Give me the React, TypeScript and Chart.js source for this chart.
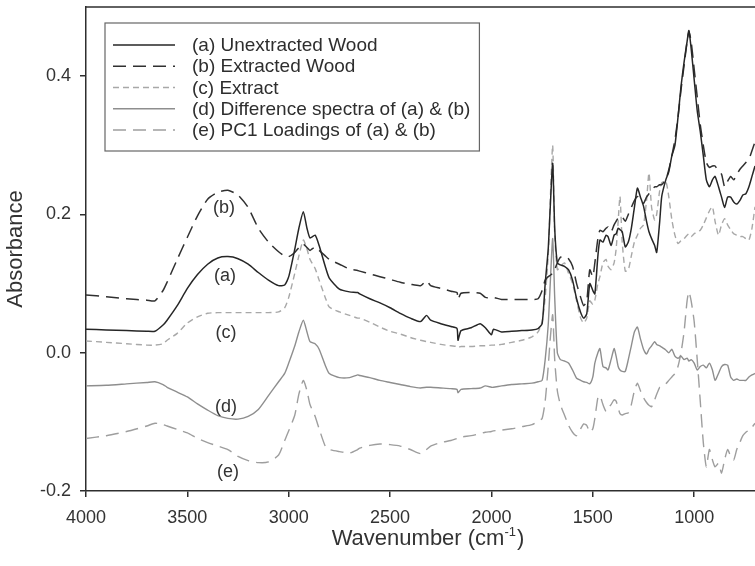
import React, { useEffect, useRef } from "react";
import { Chart, registerables } from "chart.js";

Chart.register(...registerables);

// Wavenumber grid (cm-1), descending
const wavenumbers = [
  4000, 3900, 3800, 3700, 3660, 3620, 3600, 3550, 3500, 3450,
  3400, 3350, 3300, 3250, 3200, 3150, 3100, 3050, 3020, 3000,
  2970, 2950, 2928, 2910, 2895, 2870, 2850, 2820, 2800, 2750,
  2700, 2660, 2650, 2600, 2550, 2500, 2450, 2400, 2350, 2320,
  2300, 2250, 2200, 2170, 2165, 2150, 2100, 2056, 2030, 2000,
  1990, 1950, 1900, 1850, 1800, 1770, 1750, 1735, 1720, 1710,
  1698, 1688, 1675, 1660, 1640, 1620, 1600, 1580, 1560, 1545,
  1530, 1515, 1500, 1490, 1475, 1465, 1450, 1435, 1425, 1410,
  1395, 1385, 1375, 1366, 1355, 1340, 1325, 1310, 1295, 1280,
  1265, 1250, 1235, 1223, 1210, 1195, 1185, 1170, 1160, 1140,
  1125, 1110, 1095, 1080, 1065, 1050, 1035, 1026, 1015, 1000,
  985, 970, 955, 940, 925, 910, 897, 880, 865, 850,
  835, 820, 805, 790, 775, 760, 745, 730, 715, 700,
];

// (a) Unextracted Wood
const unextracted = [
  0.034, 0.033, 0.032, 0.031, 0.031, 0.04, 0.047, 0.068, 0.093, 0.113,
  0.128, 0.137, 0.139, 0.136, 0.128, 0.116, 0.105, 0.097, 0.098, 0.11,
  0.15, 0.18, 0.204, 0.18, 0.166, 0.17, 0.155, 0.125, 0.108, 0.092,
  0.088, 0.087, 0.085, 0.078, 0.072, 0.065, 0.057, 0.05, 0.045, 0.054,
  0.047, 0.042, 0.038, 0.035, 0.018, 0.032, 0.036, 0.042, 0.036, 0.026,
  0.034, 0.03, 0.031, 0.032, 0.033, 0.035, 0.042, 0.1, 0.15, 0.21,
  0.274, 0.18, 0.13, 0.127, 0.125, 0.12, 0.105, 0.078, 0.058, 0.05,
  0.056, 0.1, 0.09, 0.085, 0.14, 0.163, 0.16, 0.17, 0.168, 0.155,
  0.17, 0.172, 0.18, 0.178, 0.175, 0.153, 0.16, 0.18, 0.21, 0.238,
  0.225, 0.212, 0.19, 0.175, 0.165, 0.155, 0.145, 0.19, 0.226, 0.25,
  0.262, 0.285, 0.3, 0.34, 0.385, 0.42, 0.45, 0.466, 0.44, 0.395,
  0.35, 0.32, 0.285, 0.25, 0.24, 0.25, 0.255, 0.24, 0.225, 0.21,
  0.225, 0.225, 0.218, 0.215, 0.22, 0.228, 0.23, 0.24, 0.255, 0.27,
];

// (b) Extracted Wood
const extracted = [
  0.0835, 0.081, 0.078, 0.076, 0.075, 0.09, 0.102, 0.135, 0.167, 0.198,
  0.222, 0.232, 0.235, 0.228, 0.21, 0.18, 0.16, 0.146, 0.14, 0.139,
  0.145, 0.152, 0.157, 0.152, 0.148, 0.153, 0.148, 0.14, 0.135, 0.128,
  0.121, 0.119, 0.118, 0.114, 0.11, 0.106, 0.102, 0.099, 0.097, 0.104,
  0.097, 0.093, 0.089, 0.087, 0.077, 0.086, 0.087, 0.086, 0.08, 0.079,
  0.08, 0.077, 0.077, 0.077, 0.077, 0.078, 0.09, 0.105, 0.11, 0.112,
  0.115, 0.12, 0.13, 0.138, 0.14, 0.136, 0.125, 0.1, 0.08, 0.068,
  0.075, 0.12, 0.11, 0.13, 0.165, 0.177, 0.175, 0.18, 0.182, 0.175,
  0.185, 0.19, 0.195, 0.197, 0.197, 0.19, 0.2, 0.21, 0.22, 0.226,
  0.22, 0.216, 0.225, 0.23, 0.235, 0.24, 0.24, 0.243, 0.243, 0.25,
  0.265, 0.285, 0.308, 0.34, 0.38, 0.415, 0.45, 0.465, 0.45, 0.41,
  0.37, 0.33, 0.3, 0.275, 0.268, 0.27, 0.27, 0.262, 0.258, 0.24,
  0.248, 0.255, 0.25, 0.258, 0.265, 0.27, 0.275, 0.28, 0.292, 0.305,
];

// (c) Extract
const extract = [
  0.017, 0.015, 0.013, 0.011, 0.011, 0.013, 0.018, 0.028, 0.043, 0.052,
  0.057, 0.058, 0.058, 0.058, 0.058, 0.058, 0.058, 0.059, 0.065, 0.08,
  0.115, 0.14, 0.163, 0.15, 0.135, 0.122, 0.105, 0.08, 0.066, 0.059,
  0.054, 0.05, 0.05, 0.044, 0.037, 0.031, 0.027, 0.022, 0.018, 0.016,
  0.015, 0.012, 0.01, 0.009, 0.008, 0.009, 0.009, 0.01, 0.01, 0.011,
  0.011, 0.012, 0.015, 0.018, 0.023, 0.03, 0.045, 0.08, 0.14, 0.22,
  0.3, 0.17, 0.12, 0.125, 0.13, 0.115, 0.1, 0.075, 0.05, 0.043,
  0.05, 0.075, 0.07, 0.076, 0.1, 0.11, 0.13, 0.135, 0.125, 0.12,
  0.13, 0.15, 0.19, 0.226, 0.16, 0.118, 0.12, 0.14, 0.16, 0.17,
  0.18, 0.185, 0.22, 0.26, 0.21, 0.192, 0.2, 0.235, 0.246, 0.248,
  0.225, 0.192, 0.17, 0.158, 0.162, 0.165, 0.17, 0.172, 0.168, 0.172,
  0.175, 0.177, 0.185, 0.195, 0.205, 0.211, 0.19, 0.17, 0.185, 0.194,
  0.185, 0.178, 0.172, 0.17, 0.168, 0.168, 0.165, 0.163, 0.18, 0.211,
];

// (d) Difference spectra of (a) & (b)
const difference = [
  -0.048, -0.047, -0.045, -0.043, -0.042, -0.046, -0.05, -0.057, -0.064, -0.074,
  -0.083, -0.091, -0.095, -0.096, -0.092, -0.082, -0.062, -0.042, -0.03, -0.015,
  0.01, 0.03, 0.047, 0.03, 0.016, 0.013, 0.005, -0.018, -0.03, -0.036,
  -0.036, -0.032, -0.033, -0.036, -0.04, -0.043, -0.046, -0.049, -0.051, -0.05,
  -0.05, -0.051, -0.052, -0.053, -0.058, -0.053, -0.052, -0.051, -0.048, -0.05,
  -0.05, -0.048, -0.046, -0.045, -0.044, -0.042, -0.04, -0.01, 0.04, 0.1,
  0.165, 0.08, 0.0, -0.01, -0.012, -0.015, -0.025, -0.037, -0.04, -0.042,
  -0.043, -0.045, -0.035, -0.015, 0.0, 0.006, -0.02, -0.022, -0.025, -0.01,
  0.006, -0.005, -0.02, -0.025, -0.027, -0.027, -0.01, 0.01, 0.03, 0.037,
  0.02, 0.005, -0.002, 0.005, 0.01, 0.016, 0.012, 0.01, 0.008, 0.004,
  0.0, 0.005, -0.005, -0.008, -0.005, -0.01, -0.008, -0.012, -0.01, -0.015,
  -0.025, -0.02, -0.018, -0.022, -0.015, -0.025, -0.04, -0.03, -0.02, -0.017,
  -0.018, -0.035, -0.04, -0.038, -0.04, -0.04, -0.04, -0.035, -0.032, -0.03,
];

// (e) PC1 Loadings of (a) & (b)
const pc1Loadings = [
  -0.124, -0.12, -0.114, -0.106, -0.102, -0.104, -0.106, -0.111, -0.116, -0.124,
  -0.13, -0.135, -0.14, -0.15, -0.156, -0.159, -0.158, -0.148, -0.127, -0.113,
  -0.09, -0.06, -0.04, -0.055, -0.075, -0.092, -0.11, -0.135, -0.14, -0.143,
  -0.145, -0.14, -0.138, -0.134, -0.132, -0.133, -0.135, -0.14, -0.146, -0.14,
  -0.135, -0.13, -0.127, -0.124, -0.124, -0.122, -0.12, -0.117, -0.115, -0.114,
  -0.113, -0.112, -0.11, -0.107, -0.104, -0.099, -0.095, -0.07, -0.02, 0.02,
  0.055, -0.01, -0.055, -0.075, -0.09, -0.105, -0.115, -0.12, -0.11, -0.103,
  -0.105, -0.115, -0.11, -0.095, -0.065, -0.062, -0.075, -0.085, -0.08, -0.075,
  -0.068, -0.07, -0.08, -0.088, -0.09, -0.088, -0.087, -0.075, -0.055, -0.044,
  -0.055, -0.065, -0.072, -0.076, -0.078, -0.068, -0.06, -0.05, -0.049, -0.045,
  -0.04, -0.035, -0.03, -0.02, 0.0, 0.03, 0.075, 0.088, 0.075, 0.045,
  -0.01, -0.07, -0.13, -0.165, -0.14, -0.155, -0.165, -0.16, -0.174, -0.155,
  -0.14, -0.15, -0.155, -0.14, -0.13, -0.12, -0.115, -0.112, -0.108, -0.102,
];

const seriesLabels = [
  "(a) Unextracted Wood",
  "(b) Extracted Wood",
  "(c) Extract",
  "(d) Difference spectra of (a) & (b)",
  "(e) PC1 Loadings of (a) & (b)",
];

const xTicks = [4000, 3500, 3000, 2500, 2000, 1500, 1000];
const yTicks = [-0.2, 0.0, 0.2, 0.4];

const xTitleMain = "Wavenumber (cm";
const xTitleSup = "-1";
const xTitleEnd = ")";

const curveTags = ["(b)", "(a)", "(c)", "(d)", "(e)"];
const curveTagX = [3319, 3314, 3309, 3309, 3299];
const curveTagY = [0.209, 0.111, 0.029, -0.079, -0.173];

const FONT = '"Liberation Sans", Arial, Helvetica, sans-serif';

const overlayPlugin = {
  id: "overlay",
  afterDraw(chart: any) {
    const { ctx, chartArea, scales } = chart;
    ctx.save();
    // top frame line
    ctx.strokeStyle = "#2e2e2e";
    ctx.lineWidth = 1.5;
    ctx.setLineDash([]);
    ctx.beginPath();
    ctx.moveTo(chartArea.left, chartArea.top);
    ctx.lineTo(chartArea.right, chartArea.top);
    ctx.stroke();

    // x axis title with superscript
    ctx.fillStyle = "#333";
    ctx.textBaseline = "alphabetic";
    ctx.textAlign = "left";
    ctx.font = `22px ${FONT}`;
    const wMain = ctx.measureText(xTitleMain).width;
    const wEnd = ctx.measureText(xTitleEnd).width;
    ctx.font = `13px ${FONT}`;
    const wSup = ctx.measureText(xTitleSup).width;
    const total = wMain + wSup + wEnd + 1;
    const cx = 428;
    const base = 545;
    let tx = cx - total / 2;
    ctx.font = `22px ${FONT}`;
    ctx.fillText(xTitleMain, tx, base);
    tx += wMain;
    ctx.font = `13px ${FONT}`;
    ctx.fillText(xTitleSup, tx, base - 9);
    tx += wSup + 1;
    ctx.font = `22px ${FONT}`;
    ctx.fillText(xTitleEnd, tx, base);

    // curve tags
    ctx.font = `18px ${FONT}`;
    ctx.fillStyle = "#333";
    ctx.textAlign = "center";
    ctx.textBaseline = "middle";
    curveTags.forEach((t, i) => {
      ctx.fillText(t, scales.x.getPixelForValue(curveTagX[i]), scales.y.getPixelForValue(curveTagY[i]));
    });

    // legend
    const boxL = chartArea.left + 19;
    const boxT = chartArea.top + 16;
    const textX = boxL + 87;
    ctx.font = `19px ${FONT}`;
    let maxW = 0;
    chart.data.datasets.forEach((ds: any) => {
      maxW = Math.max(maxW, ctx.measureText(ds.label).width);
    });
    const boxW = textX + maxW + 9 - boxL;
    const boxH = 128;
    ctx.fillStyle = "#ffffff";
    ctx.fillRect(boxL, boxT, boxW, boxH);
    ctx.strokeStyle = "#666";
    ctx.lineWidth = 1.2;
    ctx.strokeRect(boxL, boxT, boxW, boxH);
    ctx.textAlign = "left";
    ctx.textBaseline = "middle";
    chart.data.datasets.forEach((ds: any, i: number) => {
      const cy = boxT + 22 + i * 21.25;
      ctx.strokeStyle = ds.borderColor;
      ctx.lineWidth = ds.borderWidth;
      ctx.setLineDash(ds.borderDash || []);
      ctx.beginPath();
      ctx.moveTo(boxL + 8, cy);
      ctx.lineTo(boxL + 70, cy);
      ctx.stroke();
      ctx.setLineDash([]);
      ctx.fillStyle = "#2e2e2e";
      ctx.fillText(ds.label, textX, cy + 1);
    });
    ctx.restore();
  },
};

export default function App() {
  const canvasRef = useRef<HTMLCanvasElement | null>(null);

  useEffect(() => {
    document.body.style.margin = "0";
    const canvas = canvasRef.current;
    if (!canvas) return;
    const mk = (vals: number[]) => wavenumbers.map((x, i) => ({ x, y: vals[i] }));
    const styles = [
      { data: unextracted, color: "#262626", dash: [], width: 1.5 },
      { data: extracted, color: "#303030", dash: [13, 7], width: 1.5 },
      { data: extract, color: "#a8a8a8", dash: [6, 4], width: 1.4 },
      { data: difference, color: "#8e8e8e", dash: [], width: 1.4 },
      { data: pc1Loadings, color: "#9e9e9e", dash: [13, 7], width: 1.4 },
    ];
    const chart = new Chart(canvas, {
      type: "line",
      data: {
        datasets: styles.map((s, i) => ({
          label: seriesLabels[i],
          data: mk(s.data),
          borderColor: s.color,
          backgroundColor: s.color,
          borderDash: s.dash,
          borderWidth: s.width,
          pointRadius: 0,
          tension: 0.2,
          fill: false,
        })),
      },
      options: {
        responsive: false,
        animation: false,
        devicePixelRatio: 1,
        layout: { padding: { top: 7, right: 0, left: 0, bottom: 0 } },
        plugins: { legend: { display: false }, tooltip: { enabled: false } },
        scales: {
          x: {
            type: "linear",
            reverse: true,
            min: 700,
            max: 4000,
            afterBuildTicks: (s: any) => {
              s.ticks = xTicks.map((v) => ({ value: v }));
            },
            afterFit: (s: any) => {
              s.height = 75;
              s.paddingLeft = 0;
              s.paddingRight = 0;
            },
            border: { display: true, color: "#2e2e2e", width: 1.5 },
            grid: { drawOnChartArea: false, drawTicks: true, tickLength: 6, color: "#2e2e2e", lineWidth: 1.5 },
            ticks: {
              font: { family: FONT, size: 18 },
              color: "#333",
              padding: 10,
              maxRotation: 0,
              autoSkip: false,
              callback: (v: any) => String(v),
            },
            title: { display: false },
          },
          y: {
            min: -0.2,
            max: 0.5,
            afterBuildTicks: (s: any) => {
              s.ticks = yTicks.map((v) => ({ value: v }));
            },
            afterFit: (s: any) => {
              s.width = 86;
              s.paddingTop = 0;
              s.paddingBottom = 0;
            },
            border: { display: true, color: "#2e2e2e", width: 1.5 },
            grid: { drawOnChartArea: false, drawTicks: true, tickLength: 6, color: "#2e2e2e", lineWidth: 1.5 },
            ticks: {
              font: { family: FONT, size: 18 },
              color: "#333",
              padding: 9,
              callback: (v: any) => Number(v).toFixed(1),
            },
            title: {
              display: true,
              text: "Absorbance",
              font: { family: FONT, size: 22 },
              color: "#333",
              padding: { top: 3, bottom: 0 },
            },
          },
        },
      },
      plugins: [overlayPlugin],
    });
    return () => chart.destroy();
  }, []);

  return (
    <div style={{ position: "absolute", left: 0, top: 0, width: 755, height: 566, background: "#fff" }}>
      <canvas ref={canvasRef} width={755} height={566} style={{ width: 755, height: 566, display: "block" }} />
    </div>
  );
}
